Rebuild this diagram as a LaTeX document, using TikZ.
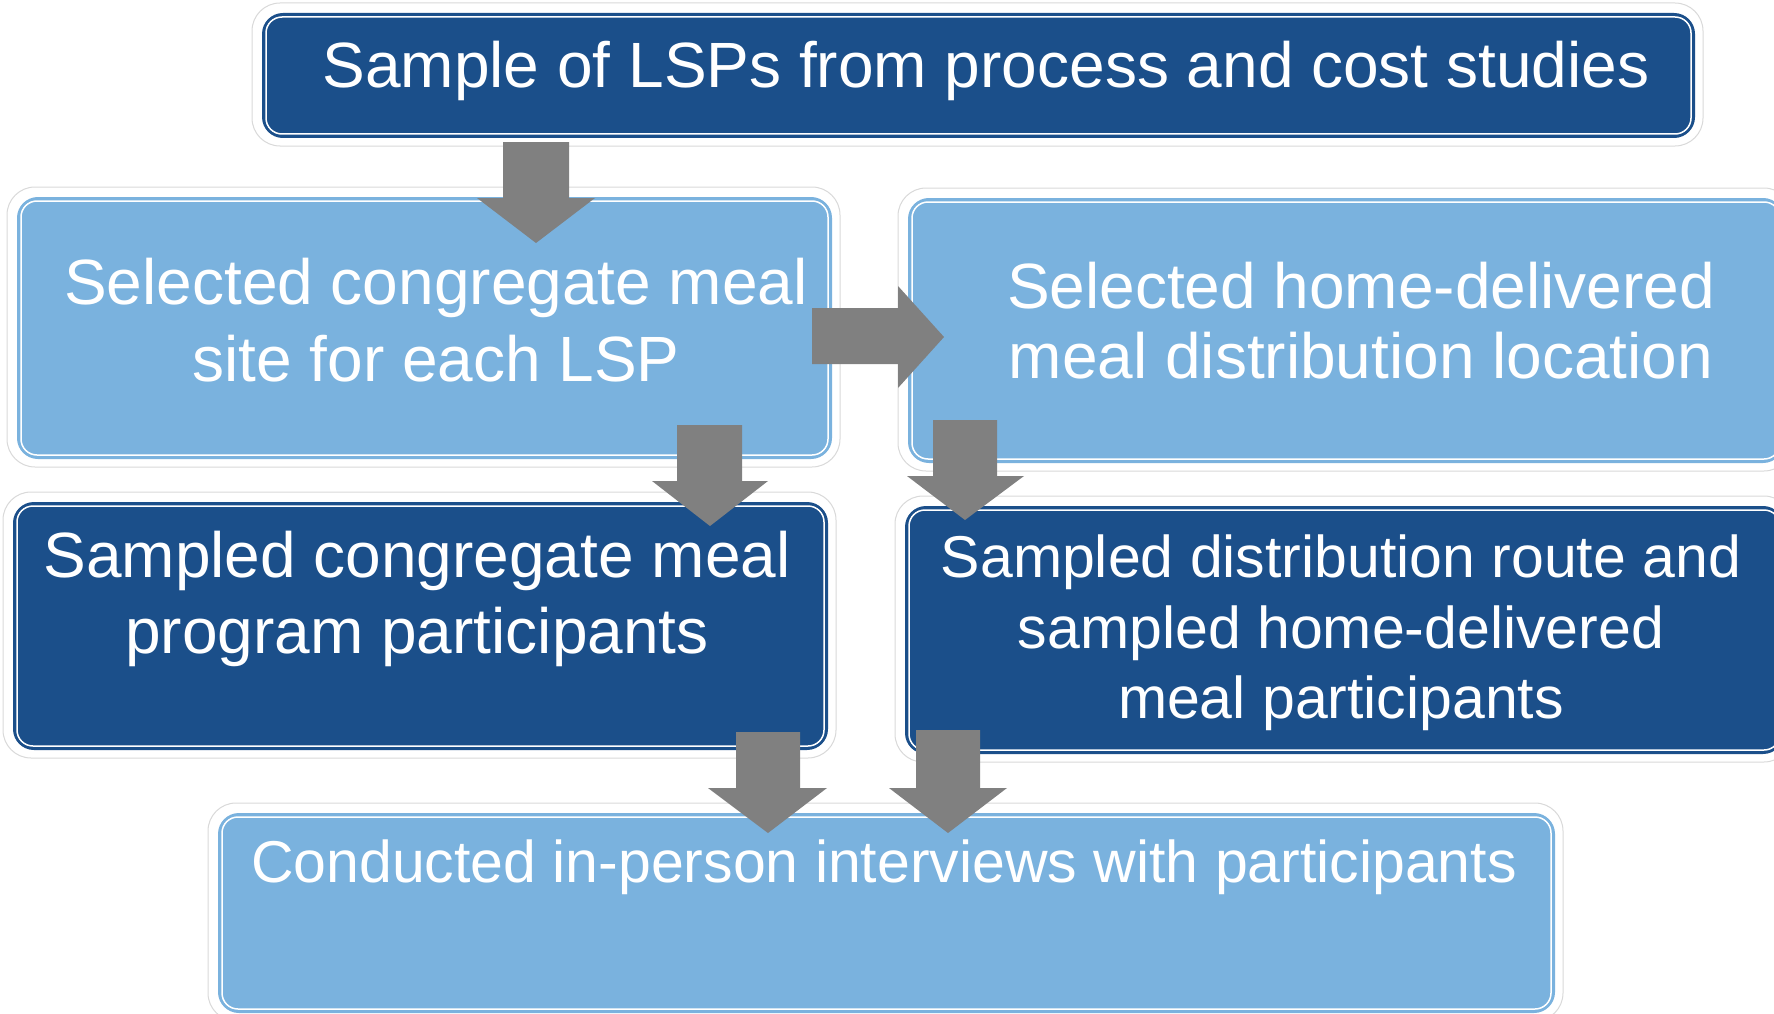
\documentclass[tikz,border=0pt]{standalone}
\usepackage{fontspec}
\setmainfont{Liberation Sans}
\definecolor{dkblue}{HTML}{1B4F8A}
\definecolor{ltblue}{HTML}{7AB2DE}
\definecolor{arrgrey}{HTML}{808080}
\tikzset{
  darkbox/.style={draw=dkblue, fill=dkblue, line width=2pt, rounded corners=20pt, inner sep=0pt, anchor=north west},
  lightbox/.style={draw=ltblue, fill=ltblue, line width=2pt, rounded corners=20pt, inner sep=0pt, anchor=north west},
  innerline/.style={draw=white, line width=1.5pt, rounded corners=16pt},
  glow/.style={draw=black!15, fill=white, line width=1pt, rounded corners=28pt},
  blockarrow/.style={fill=arrgrey, draw=none},
  boxtext/.style={text=white, align=center, font=\fontsize{64}{76}\selectfont, inner sep=0pt}
}
\begin{document}
\begin{tikzpicture}[x=1pt,y=-1pt]
\useasboundingbox (0,0) rectangle (1774,1014);
% box geometry
\coordinate (g1a) at (262,13);   \coordinate (g1b) at (1693,136);
\coordinate (g2a) at (17,197);   \coordinate (g2b) at (830,457);
\coordinate (g3a) at (908,198);  \coordinate (g3b) at (1782,461);
\coordinate (g4a) at (13,502);   \coordinate (g4b) at (826,748);
\coordinate (g5a) at (905,506);  \coordinate (g5b) at (1782,752);
\coordinate (g6a) at (218,813);  \coordinate (g6b) at (1553,1011);
% glows
\foreach \i in {1,...,6}{
  \draw[glow] ([shift={(-10,-10)}]g\i a) rectangle ([shift={(10,10)}]g\i b);
}
% boxes
\node[darkbox, minimum width=1431pt, minimum height=123pt] (b1) at (g1a) {};
\node[lightbox, minimum width=813pt, minimum height=260pt] (b2) at (g2a) {};
\node[lightbox, minimum width=874pt, minimum height=263pt] (b3) at (g3a) {};
\node[darkbox, minimum width=813pt, minimum height=246pt] (b4) at (g4a) {};
\node[darkbox, minimum width=877pt, minimum height=246pt] (b5) at (g5a) {};
\node[lightbox, minimum width=1335pt, minimum height=198pt] (b6) at (g6a) {};
\foreach \b in {b1,b2,b3,b4,b5,b6}{
  \draw[innerline] ([shift={(4,4)}]\b.north west) rectangle ([shift={(-4,-4)}]\b.south east);
}
% block arrows
\fill[blockarrow] (503,142) -- (569,142) -- (569,198) -- (595,198) -- (536,243) -- (477,198) -- (503,198) -- cycle;
\fill[blockarrow] (812,308) -- (898,308) -- (898,286) -- (944,337) -- (898,388) -- (898,364) -- (812,364) -- cycle;
\fill[blockarrow] (677,425) -- (742,425) -- (742,481) -- (768,481) -- (710,526) -- (652,481) -- (677,481) -- cycle;
\fill[blockarrow] (933,420) -- (997,420) -- (997,476) -- (1024,476) -- (965,520) -- (907,476) -- (933,476) -- cycle;
\fill[blockarrow] (736,732) -- (800,732) -- (800,788) -- (827,788) -- (768,833) -- (708,788) -- (736,788) -- cycle;
\fill[blockarrow] (916,730) -- (980,730) -- (980,788) -- (1007,788) -- (948,833) -- (889,788) -- (916,788) -- cycle;
% texts
\node[boxtext] (t1) at (986,71) {Sample of LSPs from process and cost studies};
\node[boxtext, font=\fontsize{64}{77}\selectfont] (t2) at (436,320) {Selected congregate meal\\site for each LSP};
\node[boxtext, font=\fontsize{64}{70}\selectfont] (t3) at (1361,321) {Selected home-delivered\\meal distribution location};
\node[boxtext, font=\fontsize{64}{76}\selectfont] (t4) at (417,599) {Sampled congregate meal\\program participants};
\node[boxtext, font=\fontsize{59}{70.5}\selectfont] (t5) at (1341,633) {Sampled distribution route and\\sampled home-delivered\\meal participants};
\node[boxtext, font=\fontsize{59}{70}\selectfont] (t6) at (884,867) {Conducted in-person interviews with participants};
\end{tikzpicture}
\end{document}
